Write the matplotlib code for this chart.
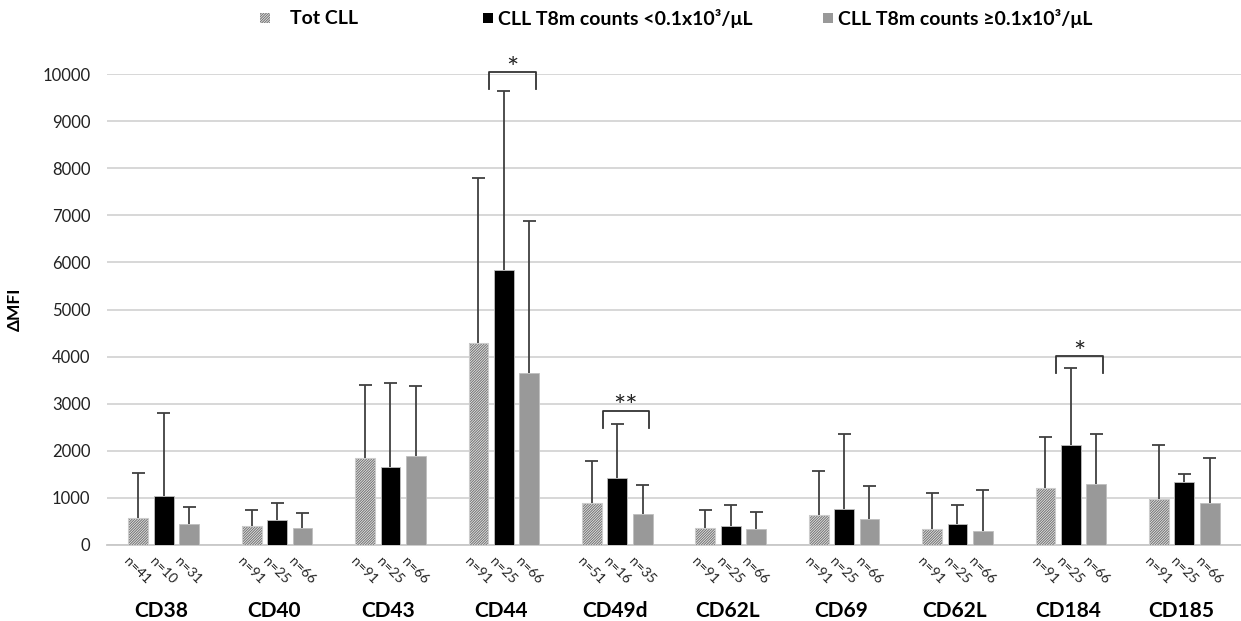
import matplotlib.pyplot as plt
import matplotlib.patches as mpatches
import numpy as np

plt.rcParams['font.family'] = ['Lato', 'DejaVu Sans']
plt.rcParams['hatch.linewidth'] = 0.8

markers = ["CD38", "CD40", "CD43", "CD44", "CD49d", "CD62L", "CD69", "CD62L", "CD184", "CD185"]
series_names = ["Tot CLL", "CLL T8m counts <0.1x10³/μL", "CLL T8m counts ≥0.1x10³/μL"]

# mean and mean+SD (top of the error bar)
tot_mean = [580, 410, 1840, 4280, 900, 370, 630, 340, 1210, 980]
tot_upper = [1520, 735, 3395, 7790, 1790, 735, 1575, 1100, 2290, 2120]
low_mean = [1030, 520, 1650, 5845, 1420, 405, 760, 445, 2120, 1335]
low_upper = [2800, 900, 3445, 9640, 2570, 845, 2355, 850, 3760, 1510]
high_mean = [445, 370, 1900, 3655, 660, 340, 560, 300, 1290, 890]
high_upper = [800, 670, 3380, 6870, 1270, 690, 1250, 1170, 2360, 1850]

tot_n = [41, 91, 91, 91, 51, 91, 91, 91, 91, 91]
low_n = [10, 25, 25, 25, 16, 25, 25, 25, 25, 25]
high_n = [31, 66, 66, 66, 35, 66, 66, 66, 66, 66]

# significance brackets
sig_groups = [3, 4, 8]
sig_tops = [10040, 2850, 4010]
sig_labels = ["*", "**", "*"]

fig = plt.figure(figsize=(12.41, 6.21), dpi=100)
ax = fig.add_axes([0.0862, 0.1224, 0.9138, 0.7584])

x = np.arange(len(markers))
width = 0.176
step = 0.224
cap = 0.057

hatch_style = dict(facecolor="#f4f4f4", edgecolor="#777777", hatch="/" * 13, linewidth=0)
series = [
    (tot_mean, tot_upper, tot_n, hatch_style),
    (low_mean, low_upper, low_n, dict(facecolor="black", edgecolor="#bfbfbf", linewidth=0.6)),
    (high_mean, high_upper, high_n, dict(facecolor="#999999", edgecolor="#bfbfbf", linewidth=0.6)),
]

for i, (mean, upper, ns, style) in enumerate(series):
    pos = x + (i - 1) * step
    ax.bar(pos, mean, width, zorder=3, **style)
    if i == 0:
        # light border around the hatched bars
        ax.bar(pos, mean, width, facecolor="none", edgecolor="#cccccc",
               linewidth=0.8, zorder=3.1)
    ax.vlines(pos, mean, upper, color="#404040", lw=1.3, zorder=4)
    ax.hlines(upper, pos - cap, pos + cap, color="#404040", lw=1.3, zorder=4)
    for p, n in zip(pos, ns):
        ax.annotate(f"n={n}", xy=(p - width / 2 + 0.02, 0), xycoords="data",
                    xytext=(0, -7), textcoords="offset points",
                    rotation=-45, rotation_mode="anchor", ha="left", va="top",
                    fontsize=10, color="#222222", annotation_clip=False)

# significance brackets
for g, top, lab in zip(sig_groups, sig_tops, sig_labels):
    x0, x1 = g - 0.13, g + 0.28
    leg = 360
    ax.plot([x0, x0, x1, x1], [top - leg, top, top, top - leg],
            color="#333333", lw=1.3, clip_on=False, zorder=4,
            solid_joinstyle="round")
    ax.text((x0 + x1) / 2, top - 120, lab, ha="center", va="baseline",
            fontsize=21, color="#222222", clip_on=False)

ax.set_xlim(-0.5, len(markers) - 0.5)
ax.set_ylim(0, 10000)
ax.set_yticks(np.arange(0, 10001, 1000))
ax.tick_params(axis="y", length=0, labelsize=12, pad=12, labelcolor="#222222")
ax.set_xticks([])
ax.yaxis.grid(True, color="#d4d4d4", linewidth=1.3, zorder=0)
ax.set_axisbelow(True)
for s in ["top", "right", "left"]:
    ax.spines[s].set_visible(False)
ax.spines["bottom"].set_color("#c8c8c8")
ax.spines["bottom"].set_linewidth(1.3)

for xi, name in zip(x, markers):
    ax.annotate(name, xy=(xi, 0), xycoords="data", xytext=(-2, -52),
                textcoords="offset points", ha="center", va="baseline",
                fontsize=15, fontweight="bold", annotation_clip=False)

ax.set_ylabel("ΔMFI", fontsize=12.5, fontweight="bold", labelpad=14)

# legend across the top
leg_x = [260, 483, 823]
text_gap = [30, 15, 15]
for lx, gap, name, st in zip(leg_x, text_gap, series_names, [s[3] for s in series]):
    st = dict(st)
    st["linewidth"] = 0
    rect = mpatches.Rectangle((lx / 1241, 1 - 23 / 621), 10 / 1241, 10 / 621,
                              transform=fig.transFigure, **st)
    fig.patches.append(rect)
    fig.text((lx + gap) / 1241, 1 - 18 / 621, name, ha="left", va="center",
             fontsize=14, fontweight="bold")

fig.savefig("out.png", dpi=100)
